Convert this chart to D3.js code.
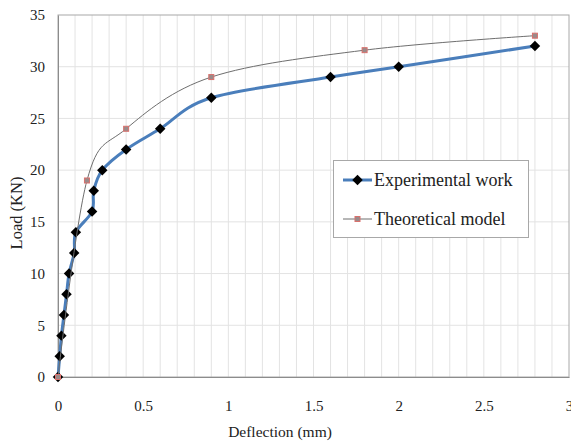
<!DOCTYPE html>
<html>
<head>
<meta charset="utf-8">
<script src="https://cdn.jsdelivr.net/npm/d3@7"></script>
<style>
  html, body { margin: 0; padding: 0; background: #fff; }
  svg { display: block; }
  svg text { font-family: "Liberation Serif", "Times New Roman", serif; fill: #222; }
  .tick text { font-size: 15px; }
</style>
</head>
<body>
<svg id="chart" width="571" height="447"></svg>
<script>
// Load–deflection readings (deflection in mm, load in kN)
const expDeflection = [0, 0.01, 0.02, 0.035, 0.05, 0.065, 0.095, 0.105, 0.2, 0.21, 0.26, 0.4, 0.6, 0.9, 1.6, 2.0, 2.8];
const expLoad       = [0, 2, 4, 6, 8, 10, 12, 14, 16, 18, 20, 22, 24, 27, 29, 30, 32];
const theoDeflection = [0, 0.17, 0.4, 0.9, 1.8, 2.8];
const theoLoad       = [0, 19, 24, 29, 31.6, 33];
const xTicks = [0, 0.5, 1, 1.5, 2, 2.5, 3];
const yTicks = [0, 5, 10, 15, 20, 25, 30, 35];
const seriesNames = ["Experimental work", "Theoretical model"];

const svg = d3.select("#chart");
const margin = { left: 58, right: 2, top: 15, bottom: 70 };
const W = 571, H = 447;

const x = d3.scaleLinear().domain([0, 3]).range([margin.left, W - margin.right]);
const y = d3.scaleLinear().domain([0, 35]).range([H - margin.bottom, margin.top]);

// minor vertical grid every 0.1 mm
const xGrid = d3.range(1, 30).map(i => i / 10);
svg.append("g").selectAll("line").data(xGrid).join("line")
  .attr("x1", d => x(d)).attr("x2", d => x(d))
  .attr("y1", y(0)).attr("y2", y(35))
  .attr("stroke", "#e3e3e3").attr("stroke-width", 1);

// horizontal grid at each load tick
svg.append("g").selectAll("line").data(yTicks.slice(1, -1)).join("line")
  .attr("x1", x(0)).attr("x2", x(3))
  .attr("y1", d => y(d)).attr("y2", d => y(d))
  .attr("stroke", "#e3e3e3").attr("stroke-width", 1);

// plot frame
svg.append("rect")
  .attr("x", x(0)).attr("y", y(35))
  .attr("width", x(3) - x(0)).attr("height", y(0) - y(35))
  .attr("fill", "none").attr("stroke", "#a8a8a8").attr("stroke-width", 1);

// axes
const xAxis = d3.axisBottom(x).tickValues(xTicks).tickSize(0).tickPadding(23)
  .tickFormat(d3.format("~g"));
svg.append("g").attr("transform", `translate(0,${y(0)})`).call(xAxis)
  .call(g => g.select(".domain").attr("stroke", "#8c8c8c"));

const yAxis = d3.axisLeft(y).tickValues(yTicks).tickSize(0).tickPadding(13);
svg.append("g").attr("transform", `translate(${x(0)},0)`).call(yAxis)
  .call(g => g.select(".domain").attr("stroke", "#8c8c8c"));

// axis titles
svg.append("text").attr("x", 280).attr("y", 437)
  .attr("text-anchor", "middle").style("font-size", "15.5px")
  .text("Deflection (mm)");
svg.append("text")
  .attr("transform", `translate(22,${213}) rotate(-90)`)
  .attr("text-anchor", "middle").style("font-size", "16.5px")
  .text("Load (KN)");

const expData = expDeflection.map((d, i) => [d, expLoad[i]]);
const theoData = theoDeflection.map((d, i) => [d, theoLoad[i]]);

const line = d3.line().x(d => x(d[0])).y(d => y(d[1])).curve(d3.curveCardinal.tension(0));

// experimental series
svg.append("path").datum(expData).attr("d", line)
  .attr("fill", "none").attr("stroke", "#4a7ebb").attr("stroke-width", 3)
  .attr("stroke-linejoin", "round");
const diamond = d3.symbol().type(d3.symbolDiamond2).size(70);
svg.append("g").selectAll("path").data(expData).join("path")
  .attr("d", diamond)
  .attr("transform", d => `translate(${x(d[0])},${y(d[1])})`)
  .attr("fill", "#000");

// theoretical series
svg.append("path").datum(theoData).attr("d", line)
  .attr("fill", "none").attr("stroke", "#6e6e6e").attr("stroke-width", 1);
svg.append("g").selectAll("rect").data(theoData).join("rect")
  .attr("x", d => x(d[0]) - 2.5).attr("y", d => y(d[1]) - 2.5)
  .attr("width", 5).attr("height", 5)
  .attr("fill", "#9a8a8a").attr("stroke", "#d9706c").attr("stroke-width", 1);

// legend
const lg = svg.append("g");
lg.append("rect").attr("x", 333.5).attr("y", 160.5).attr("width", 195).attr("height", 77)
  .attr("fill", "#fff").attr("stroke", "#a8a8a8").attr("stroke-width", 1);
lg.append("line").attr("x1", 343).attr("x2", 372).attr("y1", 180).attr("y2", 180)
  .attr("stroke", "#4a7ebb").attr("stroke-width", 3);
lg.append("path").attr("d", diamond).attr("transform", "translate(357.5,180)").attr("fill", "#000");
lg.append("text").attr("x", 374).attr("y", 186).style("font-size", "18px")
  .text(seriesNames[0]);
lg.append("line").attr("x1", 343).attr("x2", 372).attr("y1", 219).attr("y2", 219)
  .attr("stroke", "#6e6e6e").attr("stroke-width", 1);
lg.append("rect").attr("x", 355).attr("y", 216.5).attr("width", 5).attr("height", 5)
  .attr("fill", "#9a8a8a").attr("stroke", "#d9706c").attr("stroke-width", 1);
lg.append("text").attr("x", 374).attr("y", 225).style("font-size", "18px")
  .text(seriesNames[1]);
</script>
</body>
</html>
